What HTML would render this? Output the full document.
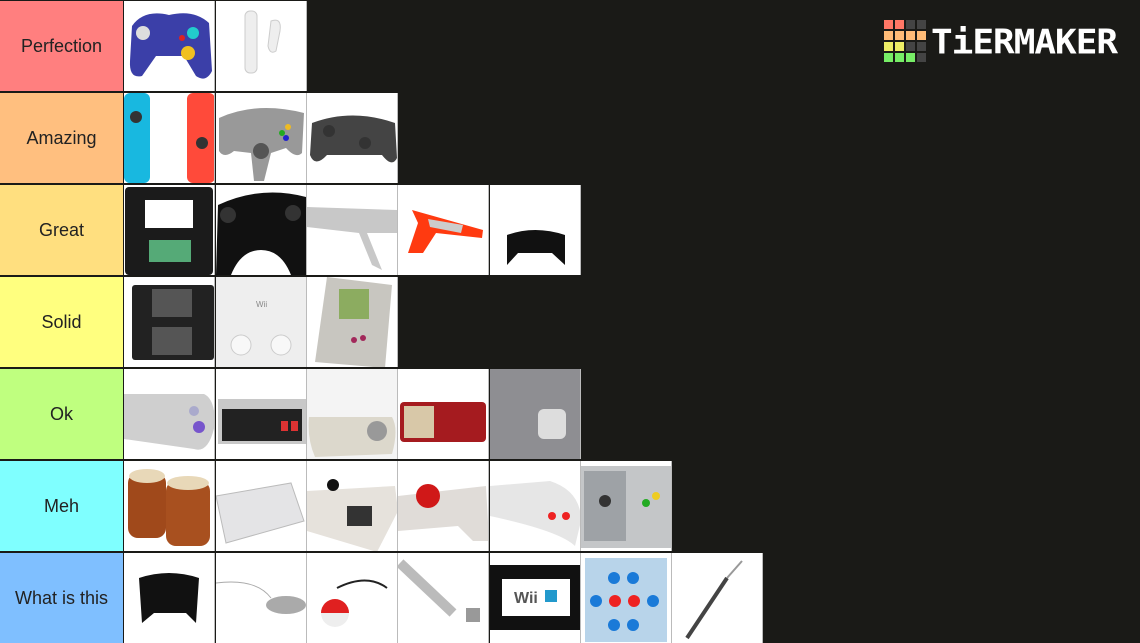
<!DOCTYPE html><html><head><style>
body{margin:0;width:1140px;height:643px;background:#1a1a17;position:relative;overflow:hidden;font-family:"Liberation Sans",sans-serif}
.l{position:absolute;left:0;width:123px;height:90px;display:flex;align-items:center;justify-content:center;font-size:18px;color:#222}
.t{position:absolute;width:90px;height:90px;background:#fff;border-right:1px solid #bbb;overflow:hidden}
.t svg{display:block}
</style></head><body>
<div class="l" style="top:1px;background:#ff7f7f">Perfection</div>
<div class="l" style="top:93px;background:#ffbf7f">Amazing</div>
<div class="l" style="top:185px;background:#ffdf7f">Great</div>
<div class="l" style="top:277px;background:#ffff7f">Solid</div>
<div class="l" style="top:369px;background:#bfff7f">Ok</div>
<div class="l" style="top:461px;background:#7fffff">Meh</div>
<div class="l" style="top:553px;background:#7fbfff">What is this</div>

<!-- Perfection -->
<div class="t" style="left:124px;top:1px"><svg width="91" height="91"><path d="M8 25 Q20 8 45 14 Q70 8 85 22 L88 70 Q82 82 72 75 L60 55 L32 55 L18 75 Q5 78 6 60Z" fill="#3b3fa8"/><circle cx="19" cy="32" r="7" fill="#ddd"/><circle cx="69" cy="32" r="6" fill="#2cc"/><circle cx="64" cy="52" r="7" fill="#f0c020"/><circle cx="58" cy="37" r="3" fill="#d22"/></svg></div>
<div class="t" style="left:216px;top:1px"><svg width="91" height="91"><rect x="29" y="10" width="12" height="62" rx="5" fill="#eee" stroke="#ccc"/><path d="M55 20 Q66 16 64 30 L60 50 Q54 54 52 45Z" fill="#eee" stroke="#ccc"/></svg></div>

<!-- Amazing -->
<div class="t" style="left:124px;top:93px"><svg width="91" height="91"><rect x="0" y="0" width="26" height="90" rx="6" fill="#18b8e0"/><rect x="63" y="0" width="28" height="90" rx="6" fill="#ff4a3a"/><circle cx="12" cy="24" r="6" fill="#333"/><circle cx="78" cy="50" r="6" fill="#333"/></svg></div>
<div class="t" style="left:216px;top:93px"><svg width="91" height="91"><path d="M3 25 Q40 8 88 20 L86 60 Q80 66 70 55 L55 60 L48 88 L38 88 L35 60 L18 58 Q8 66 3 58Z" fill="#999"/><circle cx="45" cy="58" r="8" fill="#555"/><circle cx="66" cy="40" r="3" fill="#2a2"/><circle cx="72" cy="34" r="3" fill="#eb2"/><circle cx="70" cy="45" r="3" fill="#22c"/></svg></div>
<div class="t" style="left:307px;top:93px"><svg width="91" height="91"><path d="M5 30 Q45 15 88 30 L90 65 Q85 75 75 62 L20 62 Q8 75 3 62Z" fill="#444"/><circle cx="22" cy="38" r="6" fill="#333"/><circle cx="58" cy="50" r="6" fill="#333"/></svg></div>

<!-- Great -->
<div class="t" style="left:124px;top:185px"><svg width="91" height="91"><rect x="1" y="2" width="88" height="88" rx="4" fill="#1b1b1b"/><rect x="21" y="15" width="48" height="28" fill="#fff"/><rect x="25" y="55" width="42" height="22" fill="#5a7"/></svg></div>
<div class="t" style="left:216px;top:185px"><svg width="91" height="91"><path d="M2 20 Q45 0 90 12 L91 90 L75 90 Q65 65 45 65 Q25 65 15 90 L0 90Z" fill="#111"/><circle cx="12" cy="30" r="8" fill="#333"/><circle cx="77" cy="28" r="8" fill="#333"/></svg></div>
<div class="t" style="left:307px;top:185px"><svg width="91" height="91"><path d="M0 22 L91 25 L91 48 L60 48 L75 85 L65 80 L52 48 L0 42Z" fill="#c8c8c8"/></svg></div>
<div class="t" style="left:398px;top:185px"><svg width="91" height="91"><path d="M14 25 L85 45 L84 53 L38 48 L25 68 L10 68 L20 38Z" fill="#ff3a10"/><path d="M30 34 L65 40 L63 48 L32 42Z" fill="#ccc"/></svg></div>
<div class="t" style="left:490px;top:185px"><svg width="91" height="91"><path d="M17 50 Q45 40 75 50 L75 80 L62 68 L28 68 L17 80Z" fill="#111"/></svg></div>

<!-- Solid -->
<div class="t" style="left:124px;top:277px"><svg width="91" height="91"><rect x="8" y="8" width="82" height="75" rx="3" fill="#222"/><rect x="28" y="12" width="40" height="28" fill="#555"/><rect x="28" y="50" width="40" height="28" fill="#555"/></svg></div>
<div class="t" style="left:216px;top:277px"><svg width="91" height="91"><rect x="0" y="0" width="91" height="91" fill="#eee"/><circle cx="25" cy="68" r="10" fill="#f8f8f8" stroke="#ccc"/><circle cx="65" cy="68" r="10" fill="#f8f8f8" stroke="#ccc"/><text x="40" y="30" font-size="8" fill="#888">Wii</text></svg></div>
<div class="t" style="left:307px;top:277px"><svg width="91" height="91"><path d="M20 0 L85 8 L78 91 L8 85Z" fill="#c8c6c0"/><rect x="32" y="12" width="30" height="30" fill="#8cac60"/><circle cx="47" cy="63" r="3" fill="#a2285a"/><circle cx="56" cy="61" r="3" fill="#a2285a"/></svg></div>

<!-- Ok -->
<div class="t" style="left:124px;top:369px"><svg width="91" height="91"><path d="M0 25 L80 25 Q91 30 91 55 Q85 85 70 80 L0 70Z" fill="#cfcfcf"/><circle cx="75" cy="58" r="6" fill="#75c"/><circle cx="70" cy="42" r="5" fill="#aac"/></svg></div>
<div class="t" style="left:216px;top:369px"><svg width="91" height="91"><rect x="2" y="30" width="88" height="45" fill="#c8c8c8"/><rect x="6" y="40" width="80" height="32" fill="#222"/><rect x="65" y="52" width="7" height="10" fill="#d33"/><rect x="75" y="52" width="7" height="10" fill="#d33"/></svg></div>
<div class="t" style="left:307px;top:369px"><svg width="91" height="91"><rect x="0" y="0" width="91" height="91" fill="#f4f4f4"/><path d="M2 48 L85 48 Q92 60 85 85 L8 88 Q0 70 2 48Z" fill="#dcd8cc"/><circle cx="70" cy="62" r="10" fill="#999"/></svg></div>
<div class="t" style="left:398px;top:369px"><svg width="91" height="91"><rect x="2" y="33" width="86" height="40" rx="4" fill="#a51b1f"/><rect x="6" y="37" width="30" height="32" fill="#d8c8a8"/></svg></div>
<div class="t" style="left:490px;top:369px"><svg width="91" height="91"><rect x="0" y="0" width="91" height="91" fill="#8e8e92"/><rect x="48" y="40" width="28" height="30" rx="6" fill="#ddd"/></svg></div>

<!-- Meh -->
<div class="t" style="left:124px;top:461px"><svg width="91" height="91"><rect x="4" y="12" width="38" height="65" rx="10" fill="#a0491b"/><rect x="42" y="20" width="44" height="65" rx="10" fill="#a8501f"/><ellipse cx="23" cy="15" rx="18" ry="7" fill="#e8d8b8"/><ellipse cx="64" cy="22" rx="21" ry="7" fill="#e8d8b8"/></svg></div>
<div class="t" style="left:216px;top:461px"><svg width="91" height="91"><path d="M0 35 L75 22 L88 60 L10 82Z" fill="#e4e4e6" stroke="#bbb"/></svg></div>
<div class="t" style="left:307px;top:461px"><svg width="91" height="91"><path d="M0 30 L88 25 L91 50 L70 91 L0 70Z" fill="#e6e2dc"/><circle cx="26" cy="24" r="6" fill="#111"/><rect x="40" y="45" width="25" height="20" fill="#333"/></svg></div>
<div class="t" style="left:398px;top:461px"><svg width="91" height="91"><path d="M0 35 L88 25 L91 80 L75 80 L60 65 L0 70Z" fill="#e0dcd8"/><circle cx="30" cy="35" r="12" fill="#d01818"/></svg></div>
<div class="t" style="left:490px;top:461px"><svg width="91" height="91"><path d="M0 25 L60 20 Q91 30 91 60 L85 85 Q70 70 0 55Z" fill="#e6e6e6"/><circle cx="62" cy="55" r="4" fill="#e22"/><circle cx="76" cy="55" r="4" fill="#e22"/></svg></div>
<div class="t" style="left:581px;top:461px"><svg width="91" height="91"><rect x="0" y="5" width="91" height="82" fill="#c4c6c8"/><rect x="3" y="10" width="42" height="70" fill="#9ea2a6"/><circle cx="24" cy="40" r="6" fill="#333"/><circle cx="65" cy="42" r="4" fill="#2a2"/><circle cx="75" cy="35" r="4" fill="#ec2"/></svg></div>

<!-- What is this -->
<div class="t" style="left:124px;top:553px"><svg width="91" height="91"><path d="M15 25 Q45 15 75 25 L72 70 L62 60 L30 60 L18 70Z" fill="#111"/></svg></div>
<div class="t" style="left:216px;top:553px"><svg width="91" height="91"><path d="M0 30 Q40 25 55 45" stroke="#aaa" fill="none"/><ellipse cx="70" cy="52" rx="20" ry="9" fill="#aaa"/></svg></div>
<div class="t" style="left:307px;top:553px"><svg width="91" height="91"><circle cx="28" cy="60" r="14" fill="#eee"/><path d="M14 60 A14 14 0 0 1 42 60Z" fill="#e02020"/><path d="M30 35 Q60 20 80 35" stroke="#222" fill="none" stroke-width="2"/></svg></div>
<div class="t" style="left:398px;top:553px"><svg width="91" height="91"><path d="M2 10 L55 60" stroke="#bbb" stroke-width="10"/><rect x="68" y="55" width="14" height="14" fill="#999"/></svg></div>
<div class="t" style="left:490px;top:553px"><svg width="91" height="91"><rect x="0" y="12" width="91" height="65" fill="#111"/><rect x="12" y="26" width="68" height="37" fill="#fff"/><text x="24" y="50" font-size="16" fill="#555" font-weight="bold">Wii</text><rect x="55" y="37" width="12" height="12" fill="#29c"/></svg></div>
<div class="t" style="left:581px;top:553px"><svg width="91" height="91"><rect x="4" y="5" width="82" height="84" fill="#b8d4ea"/><circle cx="33" cy="25" r="6" fill="#1a7ad8"/><circle cx="52" cy="25" r="6" fill="#1a7ad8"/><circle cx="15" cy="48" r="6" fill="#1a7ad8"/><circle cx="34" cy="48" r="6" fill="#e22"/><circle cx="53" cy="48" r="6" fill="#e22"/><circle cx="72" cy="48" r="6" fill="#1a7ad8"/><circle cx="33" cy="72" r="6" fill="#1a7ad8"/><circle cx="52" cy="72" r="6" fill="#1a7ad8"/></svg></div>
<div class="t" style="left:672px;top:553px"><svg width="91" height="91"><path d="M15 85 L55 25" stroke="#444" stroke-width="4"/><path d="M55 25 L70 8" stroke="#999" stroke-width="2"/></svg></div>

<!-- Logo -->
<div style="position:absolute;left:884px;top:20px;width:42px;height:42px;display:grid;grid-template-columns:repeat(4,9px);grid-gap:2px">
<i style="background:#f76"></i><i style="background:#f76"></i><i style="background:#444"></i><i style="background:#444"></i>
<i style="background:#fb7"></i><i style="background:#fb7"></i><i style="background:#fb7"></i><i style="background:#fb7"></i>
<i style="background:#ee6"></i><i style="background:#ee6"></i><i style="background:#444"></i><i style="background:#444"></i>
<i style="background:#7e6"></i><i style="background:#7e6"></i><i style="background:#7e6"></i><i style="background:#444"></i>
</div>
<div style="position:absolute;left:931px;top:22px;font:bold 36px 'DejaVu Sans Mono','Liberation Mono',monospace;color:#fff;letter-spacing:-1px;transform:scaleY(0.95)">TiERMAKER</div>
</body></html>
